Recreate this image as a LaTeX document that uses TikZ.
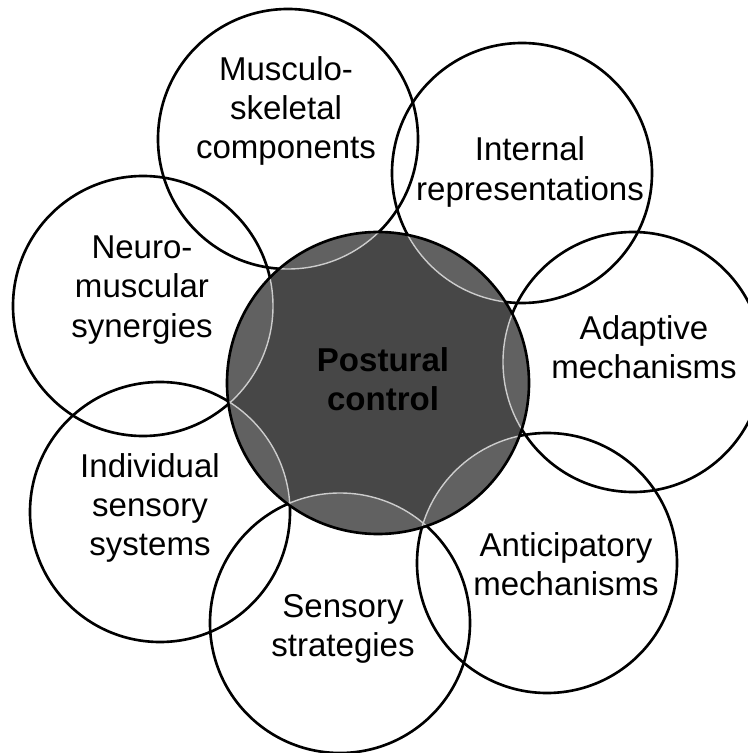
\documentclass[tikz,border=0pt]{standalone}
\usepackage{fontspec}
\setmainfont{Liberation Sans}
\usetikzlibrary{calc}

\tikzset{
    ring/.style={line width=1.5pt},
    label text/.style={align=center, font=\fontsize{18.8}{22.4}\selectfont},
}

\begin{document}
\begin{tikzpicture}[x=0.02cm, y=0.02cm]
    \useasboundingbox (-378,-370) rectangle (369,383);
    \coordinate (P) at (0,0);
    \coordinate (MS) at (-90,244); \coordinate (IR) at (144,210); \coordinate (AD) at (255,21); \coordinate (AN) at (169,-180);
    \coordinate (SS) at (-38,-240); \coordinate (IS) at (-218,-129); \coordinate (NM) at (-235,77);

    \foreach \c in {MS,IR,AD,AN,SS,IS,NM} {
        \draw[ring] (\c) circle (130);
    }

    \fill[black!72] (P) circle (151);
    \begin{scope}
        \clip (P) circle (151);
        \foreach \c in {MS,IR,AD,AN,SS,IS,NM} {
            \fill[black!62] (\c) circle (130);
        }
        \foreach \c in {MS,IR,AD,AN,SS,IS,NM} {
            \draw[line width=0.8pt, black!20] (\c) circle (130);
        }
    \end{scope}
    \draw[ring] (P) circle (151);

    \node[label text] (ms) at (-92,272) {Musculo-\\skeletal\\components};
    \node[label text] (ir) at (152,211) {Internal\\representations};
    \node[label text] (ad) at (266,36) {Adaptive\\mechanisms};
    \node[label text] (an) at (188,-181) {Anticipatory\\mechanisms};
    \node[label text] (ss) at (-35,-246) {Sensory\\strategies};
    \node[label text] (is) at (-228,-125) {Individual\\sensory\\systems};
    \node[label text] (nm) at (-236,93) {Neuro-\\muscular\\synergies};
    \node[label text, font=\fontsize{18.8}{22.4}\selectfont\bfseries] (pc) at (5,4) {Postural\\control};
\end{tikzpicture}
\end{document}
